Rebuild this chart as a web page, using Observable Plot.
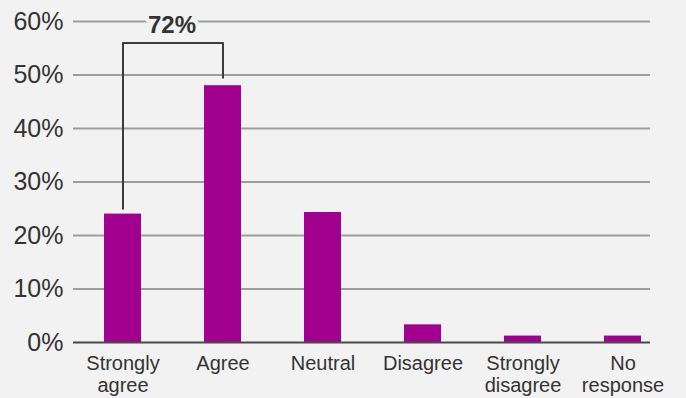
<!DOCTYPE html>
<html>
<head>
<meta charset="utf-8">
<script src="https://cdn.jsdelivr.net/npm/d3@7"></script>
<script src="https://cdn.jsdelivr.net/npm/@observablehq/plot@0.6"></script>
<style>
  html, body { margin: 0; padding: 0; background: #f2f2f2; }
  #chart svg { display: block; }
</style>
</head>
<body>
<div id="chart"></div>
<script>
// Survey responses, share of respondents (%)
const categories = ["Strongly agree", "Agree", "Neutral", "Disagree", "Strongly disagree", "No response"];
const axisLabels = ["Strongly\nagree", "Agree", "Neutral", "Disagree", "Strongly\ndisagree", "No\nresponse"];
const shares = [24, 48, 24.3, 3.3, 1.2, 1.2];
const yTicks = [0, 10, 20, 30, 40, 50, 60];

// Bracket grouping the two "agree" answers
const bracketPair = ["Strongly agree", "Agree"];
const bracketTop = 56;
const bracketGaps = [1, 1.5];

const data = categories.map((c, i) => ({category: c, share: shares[i]}));
const pairShares = bracketPair.map(c => shares[categories.indexOf(c)]);
const combined = d3.sum(pairShares);
const bracket = [
  {category: bracketPair[0], y: pairShares[0] + bracketGaps[0]},
  {category: bracketPair[0], y: bracketTop},
  {category: bracketPair[1], y: bracketTop},
  {category: bracketPair[1], y: pairShares[1] + bracketGaps[1]}
];
const labelOf = new Map(categories.map((c, i) => [c, axisLabels[i]]));

const bg = "#f2f2f2";
const ink = "#333333";

const chart = Plot.plot({
  width: 686,
  height: 398,
  marginTop: 21,
  marginBottom: 56,
  marginLeft: 73,
  marginRight: 36,
  style: {background: bg, fontFamily: "'Liberation Sans', Arial, sans-serif", color: ink},
  x: {domain: categories, range: [72.5, 672.5], paddingInner: 0.63, paddingOuter: 0.315},
  y: {domain: [0, 60]},
  marks: [
    Plot.ruleY(yTicks.filter(t => t > 0), {stroke: "#9d9d9d", strokeWidth: 2, strokeOpacity: 1}),
    Plot.barY(data, {x: "category", y: "share", fill: "#a2008e"}),
    Plot.ruleY([0], {stroke: "#4a4a4a", strokeWidth: 2}),
    Plot.line(bracket, {x: "category", y: "y", stroke: "#3c3c3c", strokeWidth: 2, curve: "linear"}),
    Plot.text([combined], {
      x: () => bracketPair[0], y: () => bracketTop, dx: 49, dy: -18,
      text: d => `${d}%`, fontSize: 24, fontWeight: "bold", fill: ink,
      stroke: bg, strokeWidth: 8, paintOrder: "stroke"
    }),
    Plot.axisY({
      ticks: yTicks, tickFormat: d => `${d}%`, tickSize: 0, tickPadding: 10,
      fontSize: 25, fill: ink, label: null
    }),
    Plot.axisX({
      tickFormat: d => labelOf.get(d), tickSize: 0, tickPadding: 11,
      fontSize: 20, lineHeight: 1.13, fill: ink, label: null
    })
  ]
});
document.getElementById("chart").appendChild(chart);
</script>
</body>
</html>
